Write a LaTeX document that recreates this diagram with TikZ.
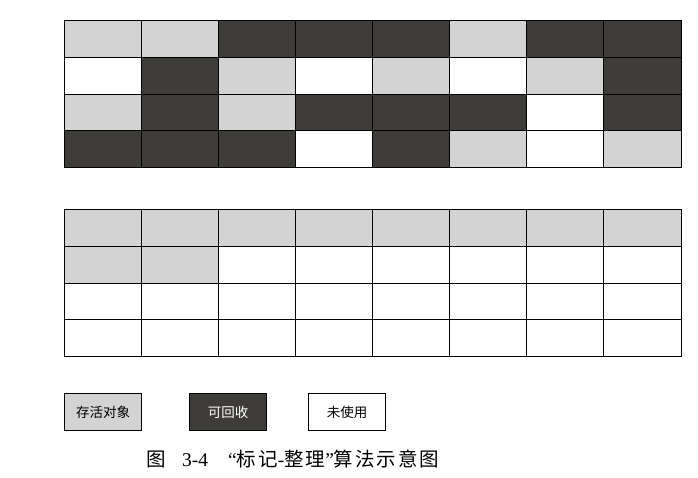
\documentclass[tikz,border=0pt]{standalone}
\usepackage{fontspec}
\setmainfont{Liberation Serif}
\newfontfamily\cjk{Noto Sans CJK SC}
\newfontfamily\cjkcap[LetterSpace=10]{Noto Sans CJK SC}
\definecolor{cL}{HTML}{D3D3D3}
\definecolor{cD}{HTML}{3E3C39}
\definecolor{cW}{HTML}{FFFFFF}
\begin{document}
\begin{tikzpicture}[x=1pt,y=-1pt,
  cell/.style={draw=black, line width=1pt},
  legendbox/.style={draw=black, line width=1pt, minimum width=77pt, minimum height=37pt, inner sep=0pt, font=\cjk\fontsize{13.5}{15}\selectfont},
  captext/.style={anchor=base west, inner sep=0pt, font=\fontsize{19.5}{22}\selectfont}]
\useasboundingbox (0,0) rectangle (698,478);
\fill[white] (0,0) rectangle (698,478);
% top grid
\foreach \row [count=\j from 0] in {{L,L,D,D,D,L,D,D},{W,D,L,W,L,W,L,D},{L,D,L,D,D,D,W,D},{D,D,D,W,D,L,W,L}}{
  \foreach \c [count=\i from 0] in \row {
    \filldraw[cell, fill=c\c] ({64+\i*77.125},{21+\j*36.6}) rectangle ({64+(\i+1)*77.125},{21+(\j+1)*36.6});
  }
}
% bottom grid
\foreach \row [count=\j from 0] in {{L,L,L,L,L,L,L,L},{L,L,W,W,W,W,W,W},{W,W,W,W,W,W,W,W},{W,W,W,W,W,W,W,W}}{
  \foreach \c [count=\i from 0] in \row {
    \filldraw[cell, fill=c\c] ({64+\i*77.125},{210+\j*36.5}) rectangle ({64+(\i+1)*77.125},{210+(\j+1)*36.5});
  }
}
% legend
\node[legendbox, fill=cL] (live) at (103,412) {存活对象};
\node[legendbox, fill=cD, text=white] (garbage) at (228,412) {可回收};
\node[legendbox, fill=cW] (free) at (347,412) {未使用};
% caption
\node[captext] (c1) at (146,466) {\cjk 图};
\node[captext] (c2) at (182,466) {3-4};
\node[captext] (c3) at (228,466) {“{\cjkcap 标记}-{\cjkcap 整理}”{\cjkcap 算法示意图}};
\end{tikzpicture}
\end{document}
